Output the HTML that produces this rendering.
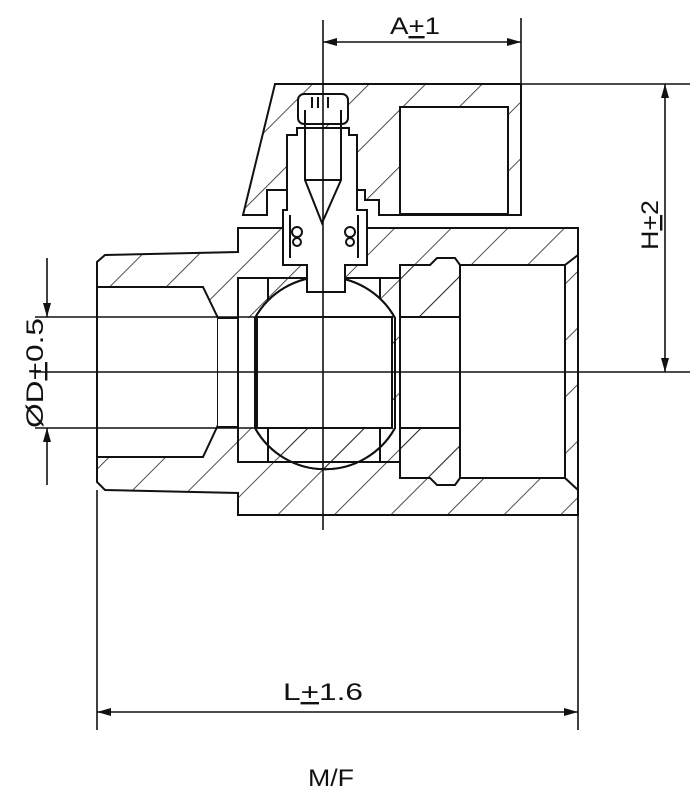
<!DOCTYPE html><html><head><style>body{margin:0;background:#fff}svg{display:block}text{font-family:"Liberation Sans",sans-serif;fill:#111}</style></head><body>
<svg width="693" height="800" viewBox="0 0 693 800" xmlns="http://www.w3.org/2000/svg">
<defs>
<pattern id="h" patternUnits="userSpaceOnUse" width="40" height="40" patternTransform="rotate(45)">
<line x1="0" y1="0" x2="0" y2="40" stroke="#222" stroke-width="1.6"/></pattern>
<marker id="a" markerWidth="14" markerHeight="8" refX="14" refY="4" orient="auto-start-reverse" markerUnits="userSpaceOnUse"><path d="M0,0 L14,4 L0,8 Z" fill="#111"/></marker>
</defs>
<g stroke="#111" stroke-width="2" fill="none">
<!-- handle -->
<path d="M275,84 L521,84 L521,215 L379,215 L379,200 L365,200 L365,190 L267,190 L267,215 L243,215 Z" fill="url(#h)"/>
<rect x="400" y="107" width="108" height="107" fill="#fff"/>
<!-- body -->
<path d="M238,228 L578,228 L578,515 L238,515 L238,493 L105,490 L97,482 L97,262 L105,255 L238,252 Z" fill="url(#h)"/>
<!-- left bore -->
<path d="M97,287 L203,287 L218,318 L218,425 L203,457 L97,457 Z" fill="#fff"/>
<rect x="218" y="318" width="40" height="109" fill="#fff" stroke="none"/>
<line x1="218" y1="318" x2="238" y2="318"/><line x1="218" y1="427" x2="238" y2="427"/>
<!-- ball cavity outline -->
<rect x="238" y="278" width="162" height="184"/>
<line x1="268" y1="278" x2="268" y2="462"/><line x1="380" y1="278" x2="380" y2="462"/>
<path d="M255,318 A80,80 0 0 1 395,318 L395,428 A80,80 0 0 1 255,428 Z" fill="url(#h)"/>
<path d="M255,318 A80,80 0 0 1 395,318" fill="#fff"/>
<path d="M255,318 A80,80 0 0 1 395,318 L395,428 A80,80 0 0 1 255,428 Z"/>
<rect x="257" y="317" width="135" height="111" fill="#fff"/>
<!-- nut -->
<path d="M400,265 L430,265 L437,258 L455,258 L460,265 L460,478 L455,485 L437,485 L430,478 L400,478 Z" fill="url(#h)"/>
<rect x="400" y="317" width="60" height="111" fill="#fff"/>
<!-- right bore -->
<path d="M460,265 L565,265 L578,255 M565,265 L565,478 L578,490 M565,478 L460,478" />
<rect x="460" y="265" width="105" height="213" fill="#fff"/>
<!-- stem -->
<path d="M287,135 L297,135 L297,128 L349,128 L349,135 L357,135 L357,210 L367,210 L367,265 L345,265 L345,292 L307,292 L307,265 L283,265 L283,210 L287,210 Z" fill="#fff"/>
<rect x="298" y="94" width="50" height="30" rx="6" fill="#fff"/>
<path d="M305,110 L305,180 L322,223 L341,180 L341,110"/>
<line x1="312" y1="97" x2="312" y2="108"/><line x1="318" y1="97" x2="318" y2="108"/><line x1="328" y1="97" x2="328" y2="108"/>
<line x1="305" y1="180" x2="341" y2="180"/>
<circle cx="297" cy="232" r="5"/><circle cx="350" cy="232" r="5"/>
<circle cx="297" cy="242" r="4"/><circle cx="350" cy="242" r="4"/>
<path d="M290,215 L290,258 M358,215 L358,258"/>
</g>
<g stroke="#111" stroke-width="1.6" fill="none">
<line x1="323" y1="20" x2="323" y2="530"/>
<line x1="35" y1="372" x2="690" y2="372"/>
<line x1="35" y1="317" x2="257" y2="317"/><line x1="35" y1="428" x2="257" y2="428"/>
<line x1="521" y1="18" x2="521" y2="84"/>
<line x1="323" y1="42" x2="521" y2="42" marker-start="url(#a)" marker-end="url(#a)"/>
<line x1="521" y1="84" x2="690" y2="84"/>
<line x1="665" y1="84" x2="665" y2="372" marker-start="url(#a)" marker-end="url(#a)"/>
<line x1="47" y1="258" x2="47" y2="317" marker-end="url(#a)"/>
<line x1="47" y1="485" x2="47" y2="428" marker-end="url(#a)"/>
<line x1="97" y1="490" x2="97" y2="730"/><line x1="578" y1="515" x2="578" y2="730"/>
<line x1="97" y1="712" x2="578" y2="712" marker-start="url(#a)" marker-end="url(#a)"/>
</g>
<text x="390" y="34" font-size="24" textLength="50" lengthAdjust="spacingAndGlyphs">A<tspan text-decoration="underline">+</tspan>1</text>
<text x="0" y="0" font-size="24" textLength="50" lengthAdjust="spacingAndGlyphs" transform="translate(658,250) rotate(-90)">H<tspan text-decoration="underline">+</tspan>2</text>
<text x="0" y="0" font-size="24" textLength="110" lengthAdjust="spacingAndGlyphs" transform="translate(43,428) rotate(-90)">ØD<tspan text-decoration="underline">+</tspan>0.5</text>
<text x="283" y="700" font-size="24" textLength="80" lengthAdjust="spacingAndGlyphs">L<tspan text-decoration="underline">+</tspan>1.6</text>
<text x="308" y="786" font-size="24" textLength="46" lengthAdjust="spacingAndGlyphs">M/F</text>
</svg></body></html>
